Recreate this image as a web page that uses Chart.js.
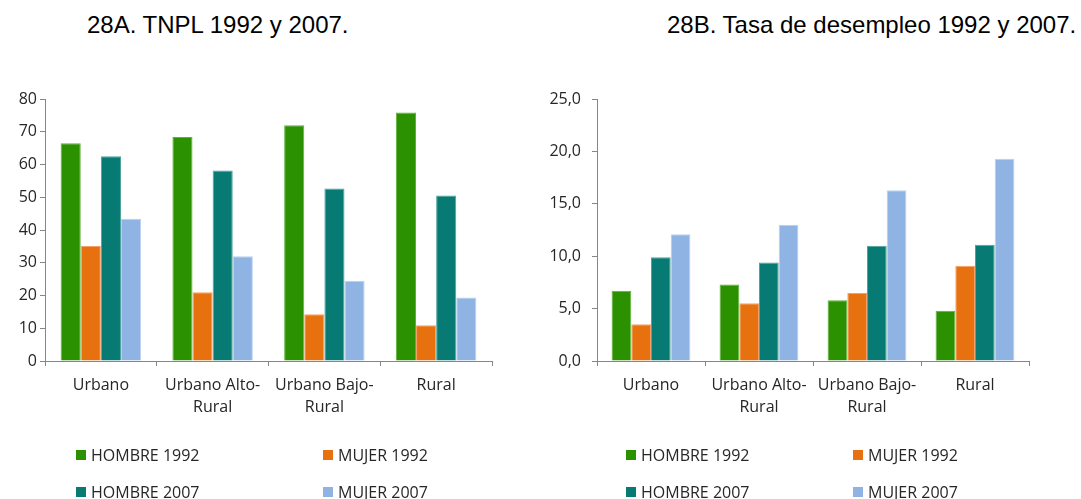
<!DOCTYPE html>
<html>
<head>
<meta charset="utf-8">
<script src="https://cdn.jsdelivr.net/npm/chart.js@4.4.1/dist/chart.umd.min.js"></script>
<style>
  html, body { margin:0; padding:0; background:#fff; width:1081px; height:499px; overflow:hidden; }
  .wrap { position:absolute; top:0; }
  .title { position:absolute; top:13px; font-family:"Liberation Sans", Arial, sans-serif; font-size:24px; line-height:24px; color:#000; white-space:nowrap; }
</style>
</head>
<body>
<div class="title" style="left:87px">28A. TNPL 1992 y 2007.</div>
<div class="title" style="left:667px">28B. Tasa de desempleo 1992 y 2007.</div>
<div class="wrap" style="left:0px"><canvas id="cA" width="540" height="499"></canvas></div>
<div class="wrap" style="left:540px"><canvas id="cB" width="541" height="499"></canvas></div>
<script>
// ---- DATA ----
const categories = [["Urbano"], ["Urbano Alto-", "Rural"], ["Urbano Bajo-", "Rural"], ["Rural"]];
const seriesNames = ["HOMBRE 1992", "MUJER 1992", "HOMBRE 2007", "MUJER 2007"];

// 28A. TNPL
const tnplHombre1992 = [66.5, 68.4, 72.0, 75.9];
const tnplMujer1992  = [35.1, 21.0, 14.3, 10.9];
const tnplHombre2007 = [62.5, 58.2, 52.7, 50.5];
const tnplMujer2007  = [43.4, 32.0, 24.5, 19.4];

// 28B. Tasa de desempleo
const desHombre1992 = [6.7, 7.3, 5.8, 4.8];
const desMujer1992  = [3.5, 5.5, 6.5, 9.1];
const desHombre2007 = [9.9, 9.4, 11.0, 11.1];
const desMujer2007  = [12.1, 13.0, 16.3, 19.3];

const ticksA = [0, 10, 20, 30, 40, 50, 60, 70, 80];
const ticksB = [0, 5, 10, 15, 20, 25];

// ---- STYLE ----
const fills   = ["#2B9100", "#E8710F", "#077B73", "#8FB4E3"];
const borders = ["#5DB23A", "#F3A06A", "#4FA39C", "#B9D1EE"];
const axisColor = "#868686";
const textColor = "#262626";
const FONT = "'Open Sans', 'Noto Sans', sans-serif";
const FS = 16;

function gridLegend(cfg) {
  return {
    id: 'gridLegend',
    afterDraw(chart) {
      const ctx = chart.ctx;
      ctx.save();
      ctx.font = FS + "px " + FONT;
      ctx.textBaseline = "middle";
      ctx.textAlign = "left";
      chart.data.datasets.forEach((ds, i) => {
        const col = i % 2, row = Math.floor(i / 2);
        const x = cfg.cols[col], y = cfg.rows[row];
        ctx.fillStyle = ds.backgroundColor;
        ctx.fillRect(x, y - 5, 10, 10);
        ctx.fillStyle = textColor;
        ctx.fillText(ds.label, x + 15, y + 1);
      });
      ctx.restore();
    }
  };
}

function makeChart(id, series, ticks, opts) {
  const datasets = series.map((vals, i) => ({
    label: seriesNames[i],
    data: vals,
    backgroundColor: fills[i],
    borderColor: borders[i],
    borderWidth: 1,
    categoryPercentage: opts.catPct,
    barPercentage: 1.0
  }));
  return new Chart(document.getElementById(id), {
    type: 'bar',
    data: { labels: categories, datasets },
    options: {
      responsive: false,
      animation: false,
      devicePixelRatio: 1,
      layout: { padding: { left: 0, top: 99, right: opts.padRight, bottom: 0 } },
      plugins: { legend: { display: false }, tooltip: { enabled: false }, title: { display: false } },
      scales: {
        x: {
          grid: { drawOnChartArea: false, drawTicks: true, tickLength: 5, color: axisColor, offset: true },
          border: { display: true, color: axisColor, width: 1 },
          ticks: { color: textColor, font: { family: FONT, size: FS, lineHeight: 1.375 }, padding: 8, maxRotation: 0, autoSkip: false },
          afterFit(s) { s.height = 138; }
        },
        y: {
          min: ticks[0], max: ticks[ticks.length - 1],
          afterBuildTicks(s) { s.ticks = ticks.map(v => ({ value: v })); },
          grid: { drawOnChartArea: false, drawTicks: true, tickLength: 5, color: axisColor },
          border: { display: true, color: axisColor, width: 1 },
          ticks: { color: textColor, font: { family: FONT, size: FS }, padding: opts.yPad, callback: opts.fmt },
          afterFit(s) { s.width = opts.axisX; }
        }
      }
    },
    plugins: [gridLegend(opts.legend)]
  });
}

makeChart('cA', [tnplHombre1992, tnplMujer1992, tnplHombre2007, tnplMujer2007], ticksA, {
  catPct: 0.72, padRight: 48, axisX: 45, yPad: 3,
  fmt: v => String(v),
  legend: { cols: [76, 323], rows: [455, 492] }
});
makeChart('cB', [desHombre1992, desMujer1992, desHombre2007, desMujer2007], ticksB, {
  catPct: 0.73, padRight: 52, axisX: 57, yPad: 11,
  fmt: v => v.toFixed(1).replace('.', ','),
  legend: { cols: [86, 313], rows: [455, 492] }
});
</script>
</body>
</html>
